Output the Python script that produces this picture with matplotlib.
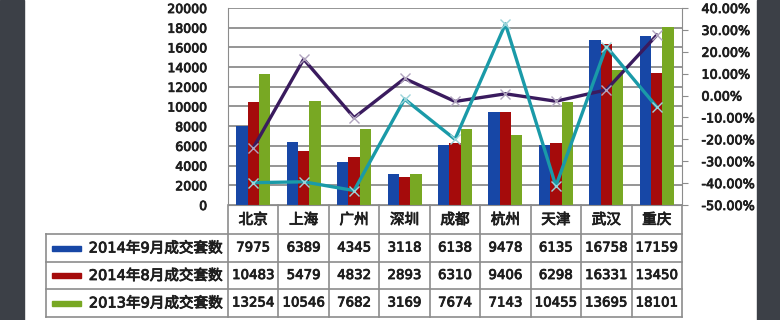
import numpy as np
import matplotlib.pyplot as plt
import matplotlib.patheffects as pe
from matplotlib.patches import Rectangle
from matplotlib.lines import Line2D
from matplotlib.transforms import blended_transform_factory

plt.rcParams['font.family'] = ['DejaVu Sans', 'Noto Sans CJK SC']

cities = ['北京', '上海', '广州', '深圳', '成都', '杭州', '天津', '武汉', '重庆']
sep14 = [7975, 6389, 4345, 3118, 6138, 9478, 6135, 16758, 17159]
aug14 = [10483, 5479, 4832, 2893, 6310, 9406, 6298, 16331, 13450]
sep13 = [13254, 10546, 7682, 3169, 7674, 7143, 10455, 13695, 18101]
row_names = ['2014年9月成交套数', '2014年8月成交套数', '2013年9月成交套数']
# percent lines read on the right axis
mom = [-23.9, 16.6, -10.1, 7.8, -2.7, 0.8, -2.6, 2.6, 27.6]
yoy = [-39.8, -39.4, -43.4, -1.6, -20.0, 32.7, -41.3, 22.4, -5.2]

blue, red, green = '#1747a6', '#a50b0b', '#78a823'
purple, teal = '#3a1b5e', '#1a9aa8'
tc = '#1e1e1e'
W, H = 780, 320
fat = [pe.withStroke(linewidth=0.6, foreground=tc)]

def fx(px):
    return px / W

def fy(py):
    return 1 - py / H

fig = plt.figure(figsize=(7.8, 3.2), dpi=100)
fig.patch.set_facecolor('white')
fig.patches.append(Rectangle((0, 0), fx(24), 1, transform=fig.transFigure, color='#3c4047'))
fig.patches.append(Rectangle((fx(757), 0), 1, 1, transform=fig.transFigure, color='#3c4047'))

ax = fig.add_axes([fx(228), fy(205), fx(682 - 228), (205 - 8) / H])
x = np.arange(len(cities))
w = 0.225
ax.bar(x - w, sep14, w, color=blue)
ax.bar(x, aug14, w, color=red)
ax.bar(x + w, sep13, w, color=green)
ax.set_xlim(-0.5, 8.5)
ax.set_ylim(0, 20000)
ax.set_yticks(range(0, 20001, 2000))
ax.yaxis.grid(True, color='#8c8c8c', lw=1.3)
ax.set_axisbelow(True)
ax.set_xticks([])
ax.tick_params(axis='y', length=0, pad=15, labelsize=9, labelcolor=tc)
for s in ['top', 'right']:
    ax.spines[s].set_visible(False)
for s in ['left', 'bottom']:
    ax.spines[s].set_color('#8c8c8c')

ax2 = ax.twinx()
ax2.plot(x, mom, color=purple, lw=2.4, marker='x', ms=7, mec='#b0a4be', mew=1.0)
ax2.plot(x, yoy, color=teal, lw=2.4, marker='x', ms=7, mec='#9cd4da', mew=1.0)
ax2.set_ylim(-50, 40)
ax2.set_yticks(range(-50, 41, 10))
ax2.yaxis.set_major_formatter(lambda v, p: f'{v:.2f}%')
ax2.tick_params(axis='y', length=4, direction='out', color='#8c8c8c', pad=10,
                labelsize=9.2, labelcolor=tc)
for s in ['top', 'left', 'bottom']:
    ax2.spines[s].set_visible(False)
ax2.spines['right'].set_color('#8c8c8c')
for lab in ax.get_yticklabels() + ax2.get_yticklabels():
    lab.set_path_effects(fat)

# data table below the plot
tr = blended_transform_factory(ax.transData, fig.transFigure)
lc = '#8c8c8c'
row_tops = [234, 262, 289, 317]
for xe in np.arange(-0.5, 9.0, 1.0):
    fig.add_artist(Line2D([xe, xe], [fy(205), fy(317)], transform=tr, color=lc, lw=1.2))
for yy in row_tops:
    fig.add_artist(Line2D([fx(46), fx(682)], [fy(yy), fy(yy)], transform=fig.transFigure, color=lc, lw=1.2))
fig.add_artist(Line2D([fx(46), fx(46)], [fy(234), fy(317)], transform=fig.transFigure, color=lc, lw=1.2))

for i, c in enumerate(cities):
    fig.text(x[i], fy(219.5), c, transform=tr, ha='center', va='center',
             fontsize=10.5, color=tc, path_effects=fat)

colors = [blue, red, green]
for r, (name, vals) in enumerate(zip(row_names, [sep14, aug14, sep13])):
    yc = (row_tops[r] + row_tops[r + 1]) / 2
    fig.patches.append(Rectangle((fx(52), fy(yc + 2.5)), fx(29), 5 / H,
                                 transform=fig.transFigure, color=colors[r]))
    fig.text(fx(223), fy(yc), name, ha='right', va='center', fontsize=10.5, color=tc,
             path_effects=fat)
    for i, v in enumerate(vals):
        fig.text(x[i], fy(yc), str(v), transform=tr, ha='center', va='center',
                 fontsize=9.6, color=tc, path_effects=fat)

fig.savefig('out.png', dpi=100)
